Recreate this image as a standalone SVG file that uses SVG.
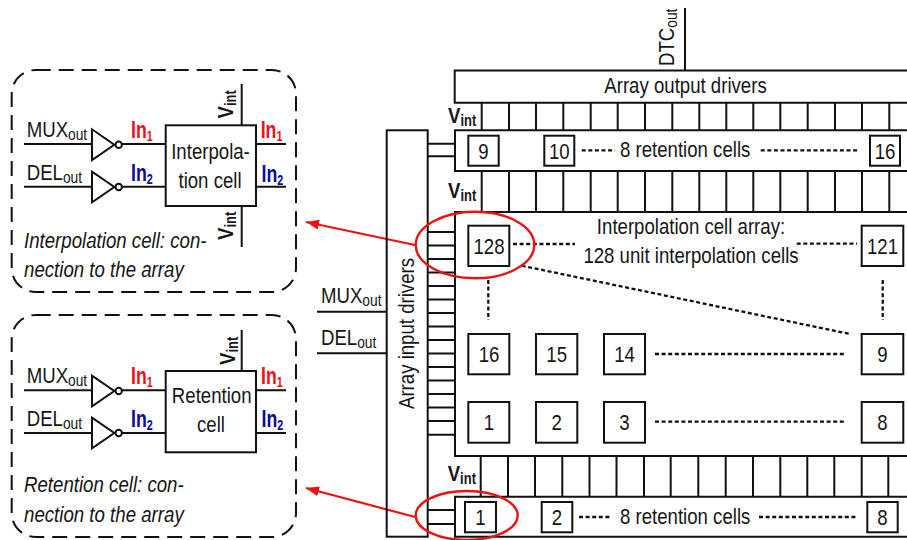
<svg xmlns="http://www.w3.org/2000/svg" width="907" height="540" viewBox="0 0 907 540">
<defs>
<marker id="arr" markerUnits="userSpaceOnUse" markerWidth="14" markerHeight="12" refX="13" refY="5" orient="auto"><path d="M0 0L13 5L0 10z" fill="#f01010"/></marker>
<style>
text{font-family:"Liberation Sans",Arial,sans-serif;font-size:23px;fill:#161616}
.m{text-anchor:middle}
.s{font-size:14px}
.o{font-size:17px}
.v{font-size:16px}
.i{font-style:italic;font-size:22.500px}
.b{font-weight:bold}
.r{fill:#f01018}
.bl{fill:#0a0aa0}
.l,.box{stroke:#111;stroke-width:2;fill:none}
.box{fill:#fff}
.d{stroke:#111;stroke-width:2.300;fill:none;stroke-dasharray:4 2.600}
.p{stroke:#111;stroke-width:2;fill:none;stroke-dasharray:15 8}
.e{stroke:#f01010;stroke-width:2.400;fill:none}
.a{stroke:#f01010;stroke-width:2.200;fill:none;marker-end:url(#arr)}
</style>
</defs>
<rect width="907" height="540" fill="#fff"/>
<g id="connectors">
<path class="l" d="M685 8V70.500"/>
<path class="l" d="M428 143.700H455M428 156.300H455M428 510H455M428 524H455"/>
<path class="l" d="M428 232H455M428 245.500H455M428 259H455M428 272.500H455M428 286H455M428 299.500H455M428 313H455M428 326.500H455M428 340H455M428 353.500H455M428 367H455M428 380.500H455M428 394H455M428 407.500H455M428 421H455M428 434.700H455"/>
<path class="l" d="M317 311.700H387M317 353.300H387"/>
<path class="d" d="M581.700 150.300H615M760.700 150.300H858M513 244H575M796.700 243.700H857M521.700 265.700L850 334M488.300 280V320M882.700 280V320M655 354H846M655 421.700H846M579 517H612M759 517H856"/>
<path class="a" d="M415 245L306 222"/>
<path class="a" d="M415 517L306 488"/>
</g>
<g id="interpolation-panel">
<rect class="p" x="11.700" y="70" width="284.300" height="222" rx="24"/>
<path class="l" d="M24 144H92M24 186.700H92M122 144H165.700M122 186.700H165.700M256 144H286M256 186.700H286M241.700 84V125.300M241.700 206V247"/>
<path class="box" d="M92 129.300V160L114.300 144.700zM92 171.700V202.300L114.300 187z"/>
<circle class="box" cx="118.700" cy="144.700" r="3.200"/>
<circle class="box" cx="118.700" cy="187" r="3.200"/>
<rect class="box" x="165.700" y="125.300" width="90.300" height="80.700"/>
<text transform="translate(26.700 137) scale(.81 1)">MUX<tspan class="o" dy="3">out</tspan></text>
<text transform="translate(26.700 180) scale(.81 1)">DEL<tspan class="o" dy="3">out</tspan></text>
<text class="b r" transform="translate(131 137.700) scale(.77 1)">In<tspan class="s" dy="3">1</tspan></text>
<text class="b bl" transform="translate(131 180.700) scale(.77 1)">In<tspan class="s" dy="3">2</tspan></text>
<text class="b r" transform="translate(260.700 137.700) scale(.77 1)">In<tspan class="s" dy="3">1</tspan></text>
<text class="b bl" transform="translate(261.500 181.500) scale(.77 1)">In<tspan class="s" dy="3">2</tspan></text>
<text class="m" transform="translate(210.500 159.300) scale(.81 1)">Interpola-</text>
<text class="m" transform="translate(210 187.700) scale(.81 1)">tion cell</text>
<text class="b" transform="translate(232.700 118.500) rotate(-90) scale(.81 1)">V<tspan class="v" dy="3">int</tspan></text>
<text class="b" transform="translate(232.700 240) rotate(-90) scale(.81 1)">V<tspan class="v" dy="3">int</tspan></text>
<text class="i" transform="translate(24 248.300) scale(.83 1)">Interpolation cell: con-</text>
<text class="i" transform="translate(24 277.300) scale(.83 1)">nection to the array</text>
</g>
<g id="retention-panel">
<rect class="p" x="11.700" y="315" width="284.300" height="222" rx="24"/>
<path class="l" d="M24 390.300H92M24 433H92M122 390.300H165.700M122 433H165.700M256 390.300H286M256 433H286M241.700 330V371"/>
<path class="box" d="M92 375.700V406.300L114.300 391zM92 417.700V448.300L114.300 433z"/>
<circle class="box" cx="118.700" cy="391" r="3.200"/>
<circle class="box" cx="118.700" cy="433" r="3.200"/>
<rect class="box" x="165.700" y="371" width="90.300" height="81.300"/>
<text transform="translate(26.700 383) scale(.81 1)">MUX<tspan class="o" dy="3">out</tspan></text>
<text transform="translate(26.700 425.500) scale(.81 1)">DEL<tspan class="o" dy="3">out</tspan></text>
<text class="b r" transform="translate(131 383.700) scale(.77 1)">In<tspan class="s" dy="3">1</tspan></text>
<text class="b bl" transform="translate(131 426.500) scale(.77 1)">In<tspan class="s" dy="3">2</tspan></text>
<text class="b r" transform="translate(261 383.700) scale(.77 1)">In<tspan class="s" dy="3">1</tspan></text>
<text class="b bl" transform="translate(261.500 427) scale(.77 1)">In<tspan class="s" dy="3">2</tspan></text>
<text class="m" transform="translate(211.700 403.300) scale(.81 1)">Retention</text>
<text class="m" transform="translate(211 432.300) scale(.81 1)">cell</text>
<text class="b" transform="translate(234.500 365) rotate(-90) scale(.81 1)">V<tspan class="v" dy="3">int</tspan></text>
<text class="i" transform="translate(24 492.300) scale(.83 1)">Retention cell: con-</text>
<text class="i" transform="translate(24 521.700) scale(.83 1)">nection to the array</text>
</g>
<g id="array-input-drivers">
<rect class="l" x="386.700" y="130.300" width="41" height="406.400"/>
<text transform="translate(414.300 409) rotate(-90) scale(.81 1)">Array input drivers</text>
</g>
<g id="inputs">
<text transform="translate(321 302.500) scale(.81 1)">MUX<tspan class="o" dy="3">out</tspan></text>
<text transform="translate(321 345) scale(.81 1)">DEL<tspan class="o" dy="3">out</tspan></text>
</g>
<g id="dtc-output">
<text transform="translate(674 66) rotate(-90) scale(.81 1)">DTC<tspan class="o" dy="3">out</tspan></text>
</g>
<g id="array-output-drivers">
<path class="l" d="M907 70.500H454.700V102.700H907"/>
<text class="m" transform="translate(685.500 93) scale(.81 1)">Array output drivers</text>
</g>
<g id="vint-row-1">
<path class="l" d="M481.700 102.700V130M509 102.700V130M536 102.700V130M563.300 102.700V130M590.700 102.700V130M617.700 102.700V130M645 102.700V130M672.300 102.700V130M699.300 102.700V130M726.300 102.700V130M753.300 102.700V130M780.300 102.700V130M807.700 102.700V130M835 102.700V130M862 102.700V130M889.300 102.700V130"/>
<text class="b" transform="translate(448 122.700) scale(.81 1)">V<tspan class="v" dy="3">int</tspan></text>
</g>
<g id="retention-row-top">
<path class="l" d="M907 130.300H455V171H907"/>
<text transform="translate(620 156.700) scale(.81 1)">8 retention cells</text>
</g>
<g id="cell-r9"><rect class="box" x="468.300" y="135.700" width="30.400" height="30"/><text class="m" transform="translate(483.500 158.500) scale(.81 1)">9</text></g>
<g id="cell-r10"><rect class="box" x="544.300" y="135.700" width="30" height="30"/><text class="m" transform="translate(559.300 158.500) scale(.81 1)">10</text></g>
<g id="cell-r16"><rect class="box" x="870" y="135.700" width="30" height="30"/><text class="m" transform="translate(885 158.500) scale(.81 1)">16</text></g>
<g id="vint-row-2">
<path class="l" d="M481.700 171V212M509 171V212M536 171V212M563.300 171V212M590.700 171V212M617.700 171V212M645 171V212M672.300 171V212M699.300 171V212M726.300 171V212M753.300 171V212M780.300 171V212M807.700 171V212M835 171V212M862 171V212M889.300 171V212"/>
<text class="b" transform="translate(448 197.700) scale(.81 1)">V<tspan class="v" dy="3">int</tspan></text>
</g>
<g id="interpolation-array">
<path class="l" d="M907 212H455V456H907"/>
<text class="m" transform="translate(691 234.300) scale(.81 1)">Interpolation cell array:</text>
<text class="m" transform="translate(691 263.300) scale(.81 1)">128 unit interpolation cells</text>
</g>
<g id="cell-128"><rect class="box" x="468.300" y="225.700" width="41" height="40.300"/><text class="m" transform="translate(489 253.500) scale(.81 1)">128</text></g>
<g id="cell-121"><rect class="box" x="861.700" y="225.700" width="41.600" height="40.300"/><text class="m" transform="translate(882.500 253.500) scale(.81 1)">121</text></g>
<g id="cell-16"><rect class="box" x="468.300" y="334" width="41" height="40.300"/><text class="m" transform="translate(489 362) scale(.81 1)">16</text></g>
<g id="cell-15"><rect class="box" x="536" y="334" width="41.300" height="40.300"/><text class="m" transform="translate(556.700 362) scale(.81 1)">15</text></g>
<g id="cell-14"><rect class="box" x="604" y="334" width="41" height="40.300"/><text class="m" transform="translate(624.500 362) scale(.81 1)">14</text></g>
<g id="cell-9"><rect class="box" x="861.700" y="334" width="41.600" height="40.300"/><text class="m" transform="translate(882.500 362) scale(.81 1)">9</text></g>
<g id="cell-1"><rect class="box" x="468.300" y="402" width="41" height="40.700"/><text class="m" transform="translate(489 430) scale(.81 1)">1</text></g>
<g id="cell-2"><rect class="box" x="536" y="402" width="41.300" height="40.700"/><text class="m" transform="translate(556.700 430) scale(.81 1)">2</text></g>
<g id="cell-3"><rect class="box" x="604" y="402" width="41" height="40.700"/><text class="m" transform="translate(624.500 430) scale(.81 1)">3</text></g>
<g id="cell-8"><rect class="box" x="861.700" y="402" width="41.600" height="40.700"/><text class="m" transform="translate(882.500 430) scale(.81 1)">8</text></g>
<g id="vint-row-3">
<path class="l" d="M480.700 456V497M508 456V497M535 456V497M562.300 456V497M589.500 456V497M616.500 456V497M644 456V497M670.700 456V497M698.300 456V497M725.700 456V497M753 456V497M780.300 456V497M807.300 456V497M834.300 456V497M861.700 456V497M888.300 456V497"/>
<text class="b" transform="translate(447.700 480.700) scale(.81 1)">V<tspan class="v" dy="3">int</tspan></text>
</g>
<g id="retention-row-bottom">
<path class="l" d="M907 496.700H455V536.700H907"/>
<text transform="translate(620 524.300) scale(.81 1)">8 retention cells</text>
</g>
<g id="cell-b1"><rect class="box" x="465" y="502" width="31" height="30.300"/><text class="m" transform="translate(480.500 525) scale(.81 1)">1</text></g>
<g id="cell-b2"><rect class="box" x="541.700" y="502" width="30.600" height="30.300"/><text class="m" transform="translate(557 525) scale(.81 1)">2</text></g>
<g id="cell-b8"><rect class="box" x="867.300" y="502" width="30.400" height="30.300"/><text class="m" transform="translate(882.500 525) scale(.81 1)">8</text></g>
<g id="highlights">
<ellipse class="e" cx="475" cy="245" rx="59.300" ry="33.300"/>
<ellipse class="e" cx="466.700" cy="515.500" rx="51" ry="24.500"/>
</g>
</svg>
